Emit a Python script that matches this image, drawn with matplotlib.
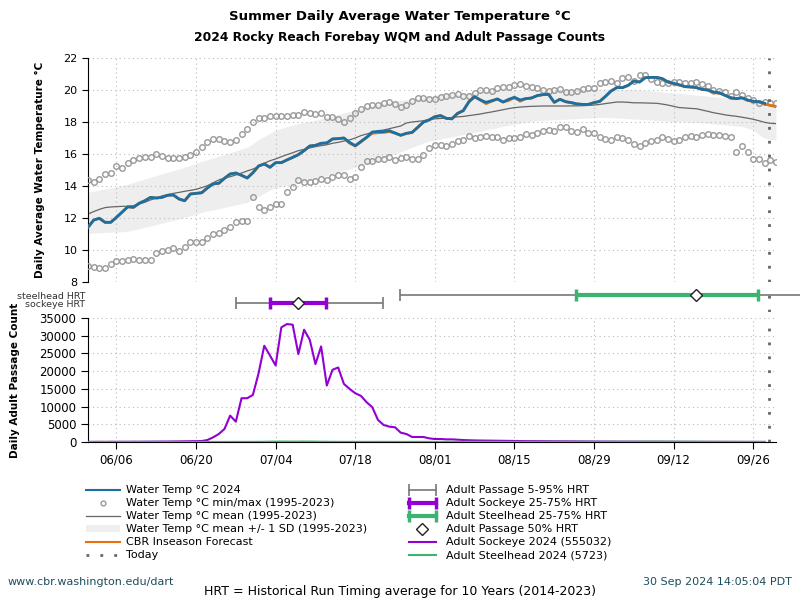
import matplotlib
matplotlib.use('Agg')
import matplotlib.pyplot as plt
import matplotlib.dates as mdates
from matplotlib.lines import Line2D
from matplotlib.patches import Patch
from matplotlib.legend_handler import HandlerLine2D
import numpy as np
import pandas as pd

# ---- data ----
dates = pd.date_range('2024-06-01', '2024-09-30', freq='D')

temp_2024 = [11.42, 11.87, 11.98, 11.73, 11.73, 12.04, 12.37, 12.70, 12.67, 12.92,
             13.08, 13.29, 13.25, 13.29, 13.42, 13.44, 13.19, 13.08, 13.50, 13.54,
             13.58, 13.88, 14.13, 14.17, 14.48, 14.75, 14.81, 14.67, 14.50, 14.83,
             15.25, 15.38, 15.17, 15.46, 15.46, 15.63, 15.79, 15.96, 16.21, 16.50,
             16.54, 16.67, 16.69, 16.94, 16.96, 17.00, 16.73, 16.52, 16.79, 17.04,
             17.38, 17.40, 17.40, 17.46, 17.31, 17.17, 17.29, 17.35, 17.67, 18.00,
             18.13, 18.33, 18.40, 18.23, 18.20, 18.54, 18.71, 19.27, 19.58, 19.38,
             19.23, 19.33, 19.44, 19.25, 19.42, 19.54, 19.38, 19.46, 19.50, 19.65,
             19.71, 19.73, 19.23, 19.42, 19.27, 19.21, 19.13, 19.10, 19.10, 19.21,
             19.29, 19.60, 19.94, 20.15, 20.15, 20.29, 20.56, 20.50, 20.77, 20.79,
             20.79, 20.71, 20.50, 20.42, 20.33, 20.21, 20.19, 20.15, 20.04, 20.00,
             19.88, 19.83, 19.67, 19.52, 19.46, 19.52, 19.38, 19.29, 19.27, 19.17]

forecast = temp_2024[:46] + [16.68, 16.50, 16.75, 17.04,
            17.30, 17.33, 17.35, 17.40, 17.31, 17.17, 17.29, 17.35, 17.67, 18.00,
            18.13, 18.33, 18.40, 18.23, 18.20, 18.54, 18.71, 19.27, 19.58, 19.38,
            19.15, 19.30, 19.44, 19.25, 19.35, 19.54, 19.30, 19.46, 19.50, 19.65,
            19.71, 19.73, 19.23, 19.42, 19.27, 19.21, 19.13, 19.10, 19.10, 19.21,
            19.29, 19.60, 19.94, 20.15, 20.15, 20.29, 20.56, 20.50, 20.77, 20.79,
            20.79, 20.71, 20.50, 20.38, 20.30, 20.21, 20.19, 20.15, 20.04, 20.00,
            19.80, 19.83, 19.67, 19.52, 19.46, 19.50, 19.35, 19.29, 19.25, 19.12,
            19.05, 18.95]

temp_max = [14.40, 14.27, 14.46, 14.75, 14.79, 15.23, 15.13, 15.44, 15.63, 15.75,
            15.79, 15.79, 16.00, 15.90, 15.75, 15.75, 15.75, 15.83, 15.96, 16.15,
            16.42, 16.75, 16.94, 16.94, 16.83, 16.77, 16.88, 17.25, 17.56, 18.02,
            18.25, 18.25, 18.40, 18.40, 18.35, 18.40, 18.44, 18.44, 18.60, 18.56,
            18.50, 18.56, 18.29, 18.33, 18.19, 18.02, 18.25, 18.54, 18.81, 19.02,
            19.08, 19.08, 19.17, 19.23, 19.13, 18.96, 19.08, 19.33, 19.48, 19.48,
            19.44, 19.44, 19.58, 19.65, 19.69, 19.75, 19.60, 19.65, 19.79, 20.00,
            20.00, 19.92, 20.13, 20.21, 20.21, 20.33, 20.38, 20.27, 20.21, 20.13,
            20.00, 19.92, 20.00, 20.06, 19.85, 19.85, 19.92, 20.06, 20.13, 20.13,
            20.44, 20.52, 20.58, 20.44, 20.73, 20.83, 20.58, 20.94, 20.94, 20.69,
            20.52, 20.42, 20.42, 20.48, 20.52, 20.44, 20.42, 20.48, 20.38, 20.27,
            20.00, 19.96, 19.85, 19.65, 19.90, 19.69, 19.48, 19.38, 19.19, 19.23,
            19.17, 19.19]

temp_min = [9.02, 8.96, 8.88, 8.85, 9.13, 9.33, 9.33, 9.38, 9.44, 9.38,
            9.38, 9.38, 9.79, 9.96, 10.00, 10.13, 9.92, 10.17, 10.50, 10.50,
            10.48, 10.75, 11.00, 11.04, 11.25, 11.46, 11.73, 11.83, 11.83, 13.29,
            12.71, 12.50, 12.71, 12.88, 12.88, 13.65, 13.96, 14.40, 14.27, 14.27,
            14.33, 14.44, 14.38, 14.58, 14.69, 14.69, 14.44, 14.54, 15.21, 15.54,
            15.58, 15.69, 15.69, 15.83, 15.65, 15.75, 15.83, 15.69, 15.69, 15.96,
            16.38, 16.56, 16.56, 16.48, 16.63, 16.83, 16.90, 17.10, 17.00, 17.04,
            17.13, 17.08, 17.04, 16.90, 17.00, 16.98, 17.08, 17.25, 17.21, 17.29,
            17.46, 17.52, 17.46, 17.71, 17.67, 17.46, 17.40, 17.56, 17.31, 17.31,
            17.04, 16.94, 16.88, 17.04, 17.00, 16.88, 16.63, 16.52, 16.67, 16.79,
            16.88, 17.04, 16.94, 16.79, 16.90, 17.08, 17.10, 17.08, 17.21, 17.25,
            17.21, 17.19, 17.10, 17.04, 16.15, 16.48, 16.15, 15.69, 15.69, 15.44,
            15.63, 15.48]

temp_mean = [12.25, 12.40, 12.54, 12.65, 12.69, 12.71, 12.73, 12.73, 12.77, 12.88,
             12.98, 13.13, 13.25, 13.38, 13.46, 13.54, 13.60, 13.67, 13.73, 13.79,
             13.90, 14.02, 14.20, 14.38, 14.50, 14.58, 14.69, 14.81, 14.94, 15.06,
             15.21, 15.42, 15.58, 15.69, 15.83, 15.96, 16.08, 16.21, 16.29, 16.38,
             16.46, 16.52, 16.58, 16.67, 16.73, 16.81, 16.88, 17.00, 17.15, 17.25,
             17.35, 17.46, 17.50, 17.58, 17.67, 17.75, 17.94, 18.00, 18.04, 18.08,
             18.15, 18.20, 18.22, 18.25, 18.28, 18.32, 18.35, 18.40, 18.45, 18.50,
             18.57, 18.63, 18.70, 18.77, 18.84, 18.90, 18.93, 18.96, 18.98, 18.99,
             19.00, 19.00, 19.00, 19.00, 19.00, 19.01, 19.01, 19.02, 19.04, 19.06,
             19.10, 19.15, 19.20, 19.25, 19.25, 19.23, 19.20, 19.20, 19.19, 19.18,
             19.17, 19.12, 19.06, 18.98, 18.90, 18.88, 18.85, 18.83, 18.75, 18.67,
             18.58, 18.52, 18.45, 18.40, 18.36, 18.30, 18.24, 18.17, 18.08, 17.98,
             17.92, 17.90]

sd_upper = [13.60, 13.68, 13.75, 13.82, 13.88, 13.95, 14.03, 14.12, 14.22, 14.33,
            14.44, 14.55, 14.65, 14.76, 14.86, 14.96, 15.06, 15.18, 15.30, 15.42,
            15.54, 15.65, 15.75, 15.86, 15.97, 16.08, 16.20, 16.31, 16.42, 16.65,
            16.90, 17.10, 17.30, 17.48, 17.60, 17.70, 17.80, 17.90, 17.98, 18.05,
            18.12, 18.20, 18.30, 18.38, 18.47, 18.56, 18.66, 18.75, 18.85, 18.95,
            19.04, 19.12, 19.18, 19.24, 19.30, 19.35, 19.40, 19.44, 19.50, 19.55,
            19.60, 19.65, 19.70, 19.72, 19.75, 19.78, 19.80, 19.83, 19.86, 19.90,
            19.93, 19.96, 19.98, 20.00, 20.00, 20.00, 20.00, 20.00, 20.00, 20.00,
            20.00, 20.01, 20.01, 20.02, 20.02, 20.02, 20.03, 20.04, 20.05, 20.05,
            20.06, 20.06, 20.06, 20.05, 20.04, 20.03, 20.02, 20.00, 19.98, 19.95,
            19.92, 19.88, 19.85, 19.82, 19.79, 19.75, 19.72, 19.68, 19.65, 19.62,
            19.58, 19.55, 19.52, 19.48, 19.44, 19.40, 19.35, 19.23, 19.20, 19.18,
            19.15, 19.13]

sd_lower = [11.04, 11.06, 11.08, 11.10, 11.11, 11.12, 11.14, 11.17, 11.25, 11.33,
            11.42, 11.50, 11.59, 11.68, 11.77, 11.85, 11.94, 12.04, 12.14, 12.25,
            12.35, 12.45, 12.50, 12.58, 12.66, 12.74, 12.82, 12.90, 12.98, 13.15,
            13.35, 13.55, 13.75, 13.88, 13.95, 14.03, 14.10, 14.18, 14.25, 14.33,
            14.43, 14.54, 14.65, 14.76, 14.86, 14.96, 15.06, 15.17, 15.27, 15.38,
            15.48, 15.58, 15.72, 15.86, 16.00, 16.14, 16.28, 16.42, 16.55, 16.68,
            16.80, 16.88, 16.94, 17.01, 17.08, 17.15, 17.22, 17.28, 17.35, 17.42,
            17.50, 17.58, 17.66, 17.74, 17.80, 17.86, 17.92, 17.98, 18.03, 18.08,
            18.10, 18.12, 18.14, 18.16, 18.18, 18.19, 18.21, 18.23, 18.25, 18.27,
            18.28, 18.29, 18.27, 18.25, 18.23, 18.21, 18.19, 18.17, 18.15, 18.13,
            18.10, 18.08, 18.06, 18.04, 18.02, 18.00, 17.99, 17.98, 17.95, 17.92,
            17.88, 17.85, 17.82, 17.78, 17.75, 17.72, 17.62, 17.50, 17.20, 17.00,
            16.92, 16.88]

sockeye_2024 = [30, 40, 50, 40, 60, 50, 70, 60, 80, 70,
                90, 100, 110, 120, 130, 150, 170, 200, 220, 250,
                280, 570, 1320, 2260, 3680, 7450, 5750, 12360, 12360, 13300,
                19400, 27170, 24430, 21600, 32360, 33300, 33100, 24800, 31700, 28870,
                21980, 26980, 15940, 20380, 21040, 16420, 15000, 13770, 13020, 11230,
                9810, 6230, 4810, 4340, 4150, 2640, 2260, 1420, 1420, 1420,
                1040, 850, 850, 750, 750, 660, 560, 500, 450, 420,
                400, 380, 360, 340, 320, 300, 280, 260, 250, 240,
                230, 220, 210, 200, 190, 180, 170, 160, 150, 140,
                130, 120, 115, 110, 105, 100, 95, 90, 85, 80,
                80, 75, 70, 70, 65, 60, 60, 55, 55, 50,
                50, 45, 45, 40, 40, 35, 35, 30, 30, 30]

steelhead_2024 = [10, 15, 20, 15, 20, 25, 20, 30, 25, 30,
                  35, 30, 40, 35, 30, 40, 35, 30, 25, 30,
                  35, 40, 30, 25, 30, 35, 40, 45, 40, 50,
                  60, 70, 90, 110, 130, 120, 100, 110, 130, 120,
                  100, 80, 70, 60, 50, 45, 40, 45, 40, 35,
                  40, 45, 50, 40, 35, 30, 35, 40, 45, 50,
                  45, 40, 35, 40, 45, 50, 55, 50, 45, 50,
                  55, 60, 55, 50, 45, 50, 55, 60, 55, 50,
                  55, 60, 65, 60, 55, 60, 65, 70, 65, 60,
                  65, 70, 75, 70, 65, 70, 80, 90, 100, 110,
                  120, 110, 100, 90, 80, 75, 70, 65, 60, 55,
                  50, 45, 40, 45, 40, 35, 30, 30, 25, 20]

# historical run timing (day of 5%, 25%, 50%, 75%, 95%)
hrt_labels = ['sockeye HRT', 'steelhead HRT']
sockeye_hrt = ['2024-06-27 02:00', '2024-07-03 02:00', '2024-07-07 22:00', '2024-07-12 22:00', '2024-07-22 22:00']
steelhead_hrt = ['2024-07-25 22:00', '2024-08-25 20:00', '2024-09-15 22:00', '2024-09-26 22:00', '2024-10-06 00:00']
today = pd.Timestamp('2024-09-28 19:00')

tick_dates = pd.date_range('2024-06-06', '2024-09-26', freq='14D')

SOCK = '#9400d3'
STEEL = '#3cb371'
GRAY = '#777777'

# ---- figure ----
plt.rcParams['font.family'] = 'DejaVu Sans'
fig = plt.figure(figsize=(8, 6), dpi=100)

ax_t = fig.add_axes([0.11, 0.53, 0.86, 0.3733])
ax_h = fig.add_axes([0.11, 0.48, 0.86, 0.0433])
ax_b = fig.add_axes([0.11, 0.2633, 0.86, 0.2067])

x = mdates.date2num(dates)
t2024 = np.array(temp_2024)
fc = np.array(forecast)
xlim = (x[0], x[-1])

grid_kw = dict(color='#bbbbbb', linestyle=(0, (1, 3)), linewidth=0.8)
today_kw = dict(color='#666666', linestyle=(0, (1, 4)), linewidth=2)

# top panel: water temperature
ax_t.fill_between(x, sd_lower, sd_upper, color='#eeeeee', linewidth=0, zorder=1)
ax_t.plot(x, temp_mean, color='#666666', linewidth=0.9, zorder=2)
ax_t.plot(x, temp_max, linestyle='none', marker='o', markersize=4, markerfacecolor='none',
          markeredgecolor='#999999', markeredgewidth=1, zorder=3)
ax_t.plot(x, temp_min, linestyle='none', marker='o', markersize=4, markerfacecolor='none',
          markeredgecolor='#999999', markeredgewidth=1, zorder=3)
ax_t.plot(x[:len(fc)], fc, color='#e8710a', linewidth=2, zorder=4)
ax_t.plot(x[:len(t2024)], t2024, color='#1a6fa3', linewidth=2, zorder=5)
ax_t.axvline(mdates.date2num(today), **today_kw, zorder=6)
ax_t.set_xlim(xlim)
ax_t.set_ylim(8, 22)
ax_t.set_yticks(range(8, 23, 2))
ax_t.set_xticks(mdates.date2num(tick_dates))
ax_t.tick_params(axis='x', length=0, labelbottom=False)
ax_t.tick_params(axis='y', labelsize=8, length=4)
ax_t.grid(True, **grid_kw)
for s in ['top', 'right', 'bottom']:
    ax_t.spines[s].set_visible(False)
ax_t.set_ylabel('Daily Average Water Temperature °C', fontsize=7.5, fontweight='bold')
ax_t.yaxis.set_label_coords(-0.063, 0.5)

# middle: HRT bars
hrt_y = [0.33, 0.64]
for yv, hrt, col in [(hrt_y[0], sockeye_hrt, SOCK), (hrt_y[1], steelhead_hrt, STEEL)]:
    q = mdates.date2num(pd.to_datetime(hrt))
    ax_h.errorbar(q[2], yv, xerr=[[q[2] - q[0]], [q[4] - q[2]]], fmt='none', ecolor=GRAY,
                  elinewidth=1.2, capsize=4, capthick=1.2, clip_on=False, zorder=2)
    ax_h.errorbar(q[2], yv, xerr=[[q[2] - q[1]], [q[3] - q[2]]], fmt='none', ecolor=col,
                  elinewidth=3, capsize=4, capthick=2.5, clip_on=False, zorder=3)
    ax_h.plot(q[2], yv, marker='D', markersize=6, markerfacecolor='white',
              markeredgecolor='#222222', markeredgewidth=1, linestyle='none', zorder=4,
              clip_on=False)
ax_h.axvline(mdates.date2num(today), **today_kw, zorder=6)
ax_h.set_xlim(xlim)
ax_h.set_ylim(0, 1)
ax_h.set_yticks(hrt_y)
ax_h.set_yticklabels(hrt_labels, fontsize=6.8, color='#333333')
ax_h.tick_params(axis='y', length=0, pad=2)
ax_h.set_xticks([])
for s in ax_h.spines.values():
    s.set_visible(False)

# bottom panel: adult passage counts
ax_b.plot(x[:len(sockeye_2024)], sockeye_2024, color=SOCK, linewidth=1.5, zorder=3)
ax_b.plot(x[:len(steelhead_2024)], steelhead_2024, color=STEEL, linewidth=1.5, zorder=3)
ax_b.axvline(mdates.date2num(today), **today_kw, zorder=6)
ax_b.set_xlim(xlim)
ax_b.set_ylim(0, 35000)
ax_b.set_yticks(range(0, 35001, 5000))
ax_b.set_xticks(mdates.date2num(tick_dates))
ax_b.xaxis.set_major_formatter(mdates.DateFormatter('%m/%d'))
ax_b.tick_params(labelsize=8.5, length=5)
ax_b.grid(True, **grid_kw)
ax_b.spines['top'].set_visible(False)
ax_b.spines['right'].set_visible(False)
ax_b.set_ylabel('Daily Adult Passage Count', fontsize=7.5, fontweight='bold')
ax_b.yaxis.set_label_coords(-0.099, 0.5)

# titles
title_kw = dict(ha='center', va='center', fontweight='bold', family=['DejaVu Sans'])
fig.text(0.5, 0.972, 'Summer Daily Average Water Temperature °C', fontsize=9.5, **title_kw)
fig.text(0.5, 0.938, '2024 Rocky Reach Forebay WQM and Adult Passage Counts', fontsize=8.8, **title_kw)

# legends
h_diam = Line2D([], [], linestyle='none', marker='D', markersize=6, markerfacecolor='white',
                markeredgecolor='#222222', markeredgewidth=1, label='Adult Passage 50% HRT')
left_handles = [
    Line2D([], [], color='#1a6fa3', linewidth=1.5, label='Water Temp °C 2024'),
    Line2D([], [], linestyle='none', marker='o', markersize=3.5, markerfacecolor='none',
           markeredgecolor='#999999', label='Water Temp °C min/max (1995-2023)'),
    Line2D([], [], color='#666666', linewidth=0.9, label='Water Temp °C mean (1995-2023)'),
    Patch(facecolor='#eeeeee', edgecolor='none', label='Water Temp °C mean +/- 1 SD (1995-2023)'),
    Line2D([], [], color='#e8710a', linewidth=1.5, label='CBR Inseason Forecast'),
    Line2D([], [], color='#666666', linestyle=(0, (1, 4)), linewidth=2, label='Today'),
]
right_handles = [
    Line2D([], [], color=GRAY, linewidth=1.2, marker='|', markersize=8, markeredgewidth=1.2,
           label='Adult Passage 5-95% HRT'),
    Line2D([], [], color=SOCK, linewidth=3, marker='|', markersize=9, markeredgewidth=2.5,
           label='Adult Sockeye 25-75% HRT'),
    Line2D([], [], color=STEEL, linewidth=3, marker='|', markersize=9, markeredgewidth=2.5,
           label='Adult Steelhead 25-75% HRT'),
    h_diam,
    Line2D([], [], color=SOCK, linewidth=1.5, label='Adult Sockeye 2024 (555032)'),
    Line2D([], [], color=STEEL, linewidth=1.5, label='Adult Steelhead 2024 (5723)'),
]
leg_kw = dict(loc='upper left', frameon=False, fontsize=8, handlelength=3.0, handletextpad=0.6,
              labelspacing=0.27, borderpad=0, borderaxespad=0)
fig.legend(handles=left_handles, bbox_to_anchor=(0.108, 0.191), **leg_kw)
fig.legend(handles=right_handles, bbox_to_anchor=(0.507, 0.191), numpoints=2,
           handler_map={h_diam: HandlerLine2D(numpoints=1)}, **leg_kw)

# footer
fig.text(0.01, 0.03, 'www.cbr.washington.edu/dart', ha='left', va='center', fontsize=8, color='#1d4e5e')
fig.text(0.99, 0.03, '30 Sep 2024 14:05:04 PDT', ha='right', va='center', fontsize=8, color='#1d4e5e')
fig.text(0.5, 0.015, 'HRT = Historical Run Timing average for 10 Years (2014-2023)', ha='center',
         va='center', fontsize=9)

fig.savefig('out.png', dpi=100)
